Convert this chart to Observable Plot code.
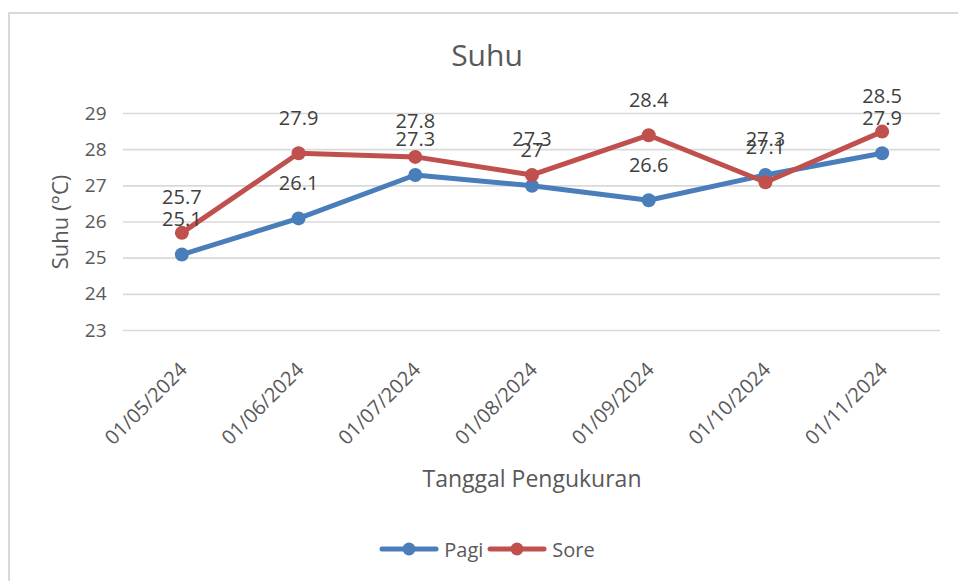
<!DOCTYPE html>
<html>
<head>
<meta charset="utf-8">
<script src="https://cdn.jsdelivr.net/npm/d3@7"></script>
<script src="https://cdn.jsdelivr.net/npm/@observablehq/plot@0.6"></script>
<style>
  body { margin: 0; background: #fff; font-family: "Open Sans", sans-serif; width: 958px; height: 581px; overflow: hidden; position: relative; }
  #frame { position: absolute; left: 8px; top: 12px; right: -4px; bottom: -4px; border-left: 2px solid #d9d9d9; border-top: 2px solid #d9d9d9; }
  #title { position: absolute; left: 0; width: 974px; top: 36px; text-align: center; font-size: 30px; line-height: 38px; color: #595959; }
  #chart { position: absolute; left: 0; top: 80px; }
  #legend { position: absolute; left: 0; width: 974px; top: 535px; height: 28px; display: flex; justify-content: center; align-items: center; font-size: 20px; color: #595959; }
  .item { display: flex; align-items: center; margin: 0 2px; }
  .item svg { margin-right: 5px; }
</style>
</head>
<body>
<div id="frame"></div>
<div id="title">Suhu</div>
<div id="chart"></div>
<div id="legend"></div>
<script>
const dates = ["01/05/2024", "01/06/2024", "01/07/2024", "01/08/2024", "01/09/2024", "01/10/2024", "01/11/2024"];
const pagi = [25.1, 26.1, 27.3, 27.0, 26.6, 27.3, 27.9];
const sore = [25.7, 27.9, 27.8, 27.3, 28.4, 27.1, 28.5];
const seriesNames = ["Pagi", "Sore"];
const seriesColors = ["#4A7EBB", "#C0504D"];
const yTicks = [23, 24, 25, 26, 27, 28, 29];
const xTitle = "Tanggal Pengukuran";
const yTitle = "Suhu (°C)";

const rows = [];
[pagi, sore].forEach((vals, i) => vals.forEach((v, j) => rows.push({date: dates[j], series: seriesNames[i], value: v})));

const marks = [
  Plot.ruleY(yTicks, {stroke: "#d9d9d9", strokeWidth: 1.6}),
  Plot.axisY({ticks: yTicks, tickFormat: d => String(d), tickSize: 0, tickPadding: 17, fontSize: 19, label: null}),
  Plot.axisX({tickSize: 0, tickRotate: -45, tickPadding: 36, dx: 2, fontSize: 20, label: null}),
  Plot.text([yTitle], {text: d => d, frameAnchor: "left", textAnchor: "middle", lineAnchor: "middle", rotate: -90, dx: -63, fontSize: 22, fill: "#595959"}),
  Plot.text([xTitle], {text: d => d, frameAnchor: "bottom", textAnchor: "middle", lineAnchor: "middle", dy: 149, fontSize: 23, fill: "#595959"})
];
for (const s of seriesNames) {
  const sub = rows.filter(d => d.series === s);
  marks.push(Plot.line(sub, {x: "date", y: "value", stroke: "series", strokeWidth: 5, strokeLinejoin: "round", strokeLinecap: "round"}));
  marks.push(Plot.dot(sub, {x: "date", y: "value", fill: "series", r: 7}));
}
marks.push(Plot.text(rows, {x: "date", y: "value", text: d => String(d.value), dy: -35, fontSize: 20, fill: "#404040"}));

const chart = Plot.plot({
  width: 958,
  height: 420,
  marginTop: 33,
  marginBottom: 170,
  marginLeft: 123,
  marginRight: 18,
  style: {fontFamily: "Open Sans, sans-serif", color: "#595959", background: "transparent", overflow: "visible"},
  x: {type: "point", domain: dates, padding: 0.5, round: false},
  y: {domain: [23, 29]},
  color: {domain: seriesNames, range: seriesColors},
  marks
});
document.getElementById("chart").appendChild(chart);

const legend = document.getElementById("legend");
seriesNames.forEach((s, i) => {
  const item = document.createElement("div");
  item.className = "item";
  item.innerHTML = `<svg width="60" height="16"><line x1="3" y1="8" x2="57" y2="8" stroke="${seriesColors[i]}" stroke-width="5" stroke-linecap="round"/><circle cx="30" cy="8" r="6.5" fill="${seriesColors[i]}"/></svg><span>${s}</span>`;
  legend.appendChild(item);
});
</script>
</body>
</html>
